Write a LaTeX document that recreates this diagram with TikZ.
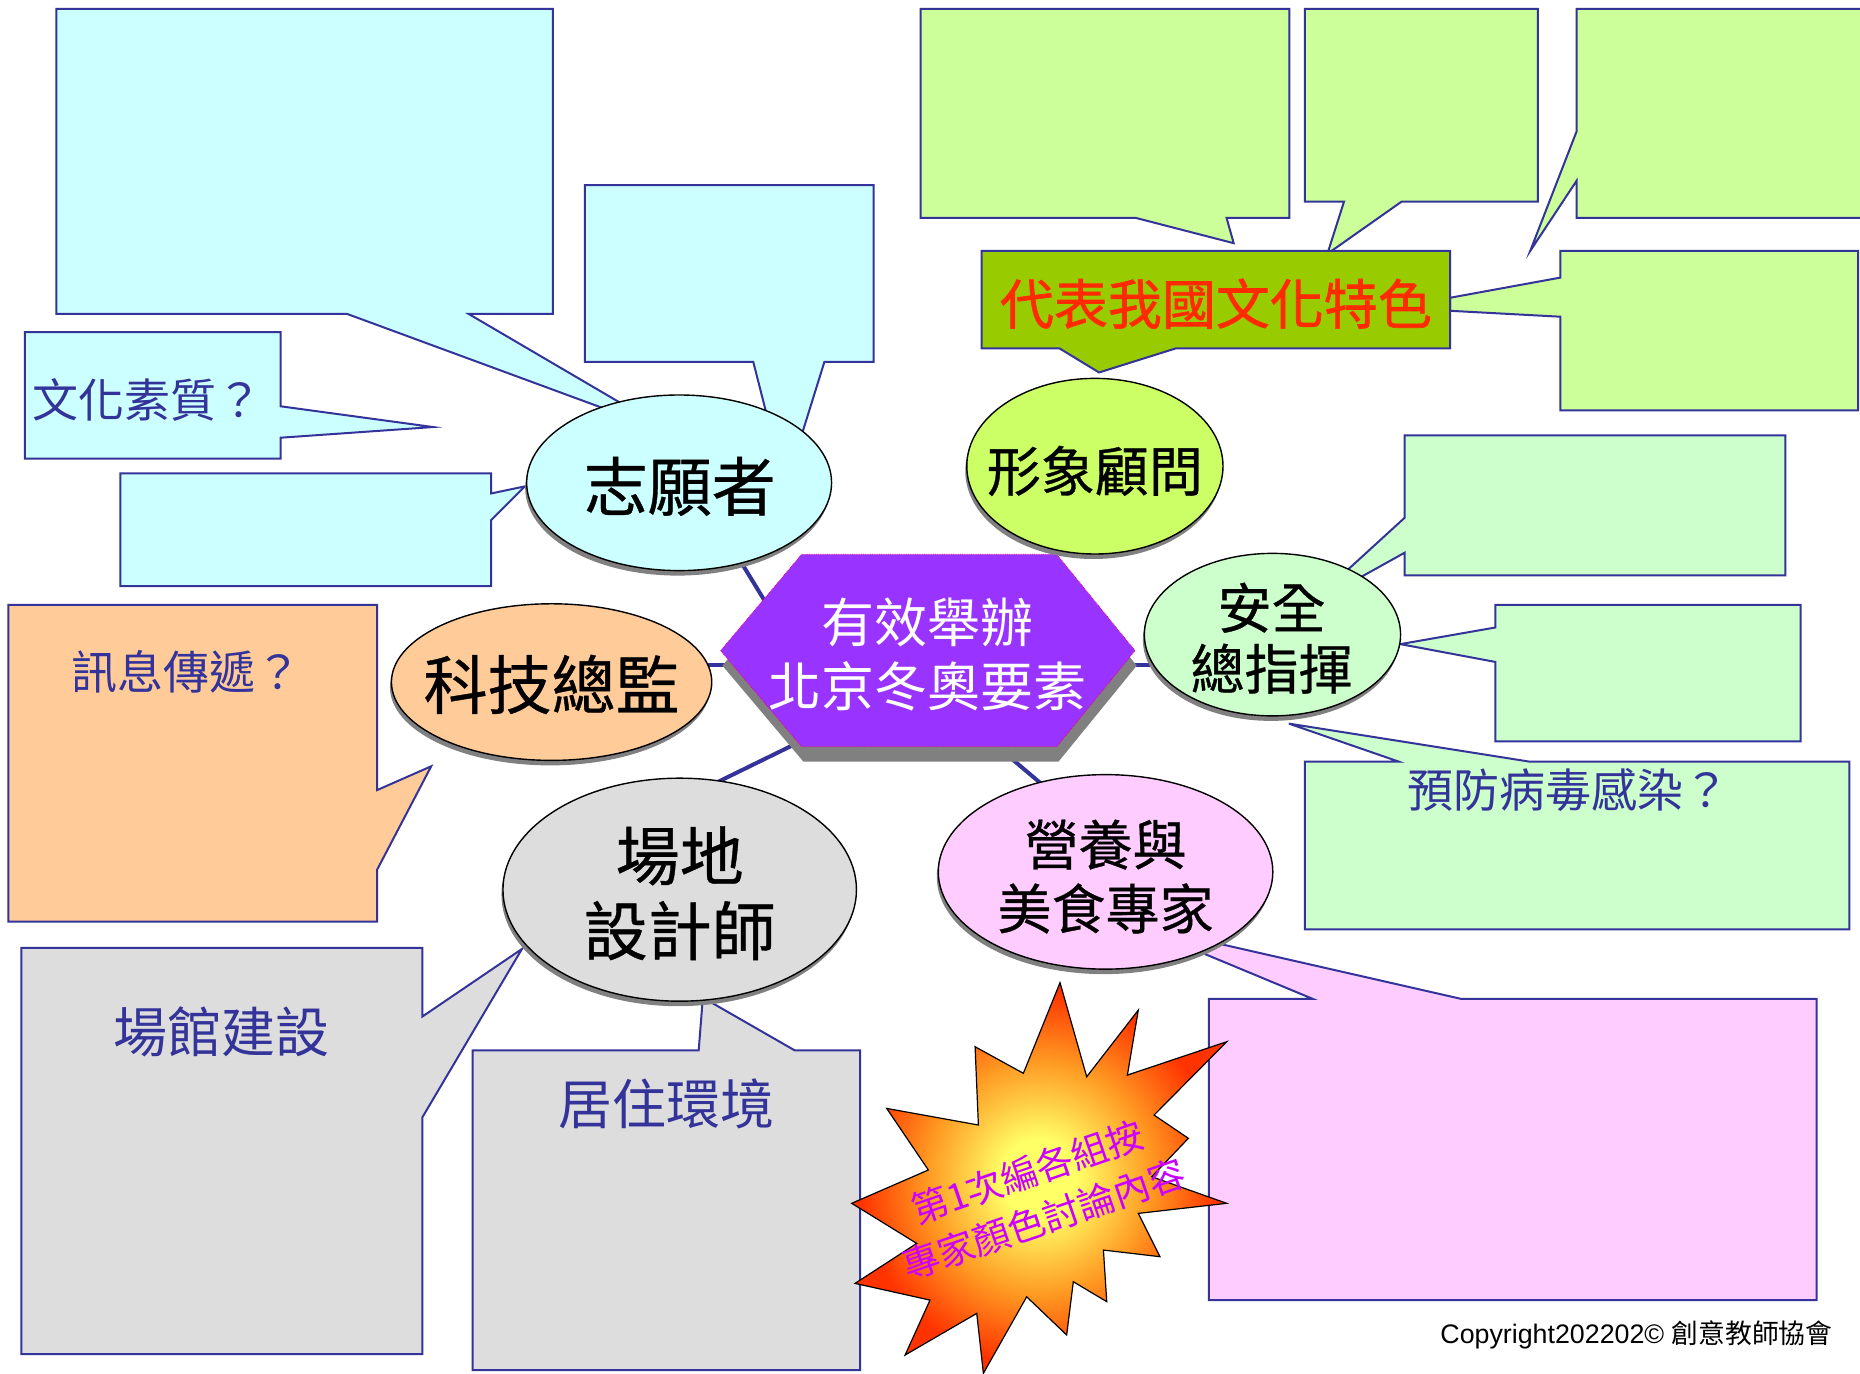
\documentclass[tikz,border=0pt]{standalone}
\usepackage{fontspec}
\setmainfont{Liberation Sans}
\newfontfamily\cjk{Noto Sans CJK TC}
\newfontfamily\cjkm{Noto Sans CJK TC}[FakeBold=0.6]
\newfontfamily\cjkh{Noto Sans CJK TC}[FakeBold=1.2]
\usetikzlibrary{shapes.geometric,shadows}
\definecolor{cbord}{HTML}{333399}
\definecolor{cyanf}{HTML}{CCFFFF}
\definecolor{lgreen}{HTML}{CCFF99}
\definecolor{olive}{HTML}{99CC00}
\definecolor{yellowg}{HTML}{CCFF66}
\definecolor{mint}{HTML}{CCFFCC}
\definecolor{peach}{HTML}{FFCC99}
\definecolor{lgray}{HTML}{DDDDDD}
\definecolor{pinkf}{HTML}{FFCCFF}
\definecolor{hexf}{HTML}{9933FF}
\definecolor{shadowgray}{HTML}{808080}
\definecolor{redtxt}{HTML}{FF2A00}
\definecolor{burstpurple}{HTML}{CC00FF}
\definecolor{bY}{HTML}{FFFF66}
\definecolor{bO}{HTML}{FF9922}
\definecolor{bR}{HTML}{FF3300}
\pgfdeclareradialshading{burst}{\pgfpoint{0bp}{0bp}}{color(0bp)=(bY); color(5bp)=(bY); color(15bp)=(bO); color(24bp)=(bR); color(50bp)=(bR)}
\begin{document}
\begin{tikzpicture}[x=1.1862pt,y=-1.1862pt,
  callout/.style={draw=cbord, line width=2pt, line join=miter},
  conn/.style={draw=cbord, line width=4pt},
  bubble/.style={ellipse, draw=black, line width=1.4pt, inner sep=0pt,
    drop shadow={shadow xshift=-1.5pt, shadow yshift=-5pt, fill=shadowgray, opacity=1}},
  lbl/.style={text=cbord, font=\cjk\fontsize{46}{55}\selectfont, inner sep=0pt},
  lblbig/.style={text=cbord, font=\cjk\fontsize{54}{64}\selectfont, inner sep=0pt},
  bigtxt/.style={text=black, inner sep=0pt, align=center},
]
\clip (0,0) rectangle (1568,1158);
\fill[white] (0,0) rectangle (1568,1158);

% ---------- callouts ----------
\path[callout, fill=cyanf] (47.5,7.5) -- (466,7.5) -- (466,264.6) -- (395,264.6) -- (568,366) -- (292.5,264.6) -- (47.5,264.6) -- cycle;
\path[callout, fill=cyanf] (493,156) -- (736.5,156) -- (736.5,305) -- (695,305) -- (662,411) -- (635,305) -- (493,305) -- cycle;
\path[callout, fill=cyanf] (21,280) -- (236.5,280) -- (236.5,342.5) -- (365,360) -- (236.5,369) -- (236.5,386.6) -- (21,386.6) -- cycle;
\path[callout, fill=cyanf] (101.5,399) -- (414,399) -- (414,416) -- (442.5,410) -- (414,438.5) -- (414,494) -- (101.5,494) -- cycle;
\path[callout, fill=peach] (7,510) -- (318,510) -- (318,666) -- (363.5,646) -- (318,733) -- (318,777) -- (7,777) -- cycle;
\path[callout, fill=lgray] (18,799) -- (356,799) -- (356,857) -- (440,800) -- (356,942) -- (356,1141.5) -- (18,1141.5) -- cycle;
\path[callout, fill=lgray] (398.5,885.5) -- (589,885.5) -- (592.5,841) -- (670,885.5) -- (725,885.5) -- (725,1155) -- (398.5,1155) -- cycle;

\path[callout, fill=lgreen] (776,7.5) -- (1087,7.5) -- (1087,183.7) -- (1034,183.7) -- (1040,205) -- (957.5,183.7) -- (776,183.7) -- cycle;
\path[callout, fill=lgreen] (1100,7.5) -- (1296.5,7.5) -- (1296.5,170) -- (1181.5,170) -- (1119,214) -- (1133,170) -- (1100,170) -- cycle;
\path[callout, fill=lgreen] (1329,7.5) -- (1580,7.5) -- (1580,183.7) -- (1329,183.7) -- (1329,152.5) -- (1290,211.5) -- (1329,111) -- cycle;
\path[callout, fill=lgreen] (1315.5,211.5) -- (1566.5,211.5) -- (1566.5,346) -- (1315.5,346) -- (1315.5,267) -- (1222.5,262) -- (1222.5,251) -- (1315.5,234) -- cycle;
\path[callout, fill=olive] (827.5,211.5) -- (1222.5,211.5) -- (1222.5,293.6) -- (991.5,293.6) -- (926.5,314) -- (893,293.6) -- (827.5,293.6) -- cycle;

\path[callout, fill=mint] (1184,367) -- (1505,367) -- (1505,485) -- (1184,485) -- (1184,466) -- (1101.7,511.8) -- (1184,436.6) -- cycle;
\path[callout, fill=mint] (1260.5,510) -- (1518,510) -- (1518,625) -- (1260.5,625) -- (1260.5,558) -- (1180.5,543) -- (1260.5,529) -- cycle;
\path[callout, fill=mint] (1100,642) -- (1179,642) -- (1086.5,610) -- (1289,642) -- (1559,642) -- (1559,783.5) -- (1100,783.5) -- cycle;
\path[callout, fill=pinkf] (1019,842) -- (1106.5,842) -- (955,779) -- (1231.5,842) -- (1531.5,842) -- (1531.5,1096) -- (1019,1096) -- cycle;

% ---------- labels in callouts ----------
\node[lbl, anchor=west] (q1) at (27,337) {文化素質？};
\node[lbl, anchor=west] (q2) at (60,566) {訊息傳遞？};
\node[lblbig] (q3) at (187,870) {場館建設};
\node[lblbig] (q4) at (562,931) {居住環境};
\node[lbl, anchor=west] (q5) at (1186,666) {預防病毒感染？};
\node[inner sep=0pt, text=redtxt, font=\cjkh\fontsize{54}{64}\selectfont] (ct) at (1025,256) {代表我國文化特色};

% ---------- connectors ----------
\coordinate (k1a) at (615,458);
\coordinate (k1b) at (670,548);
\coordinate (k2a) at (580,560.6);
\coordinate (k2b) at (640,560.6);
\coordinate (k3a) at (590,666.6);
\coordinate (k3b) at (690,617.6);
\coordinate (k4a) at (845,633);
\coordinate (k4b) at (890,671);
\coordinate (k5a) at (930,560.6);
\coordinate (k5b) at (985,560.6);
\draw[conn] (k1a) -- (k1b);
\draw[conn] (k2a) -- (k2b);
\draw[conn] (k3a) -- (k3b);
\draw[conn] (k4a) -- (k4b);
\draw[conn] (k5a) -- (k5b);

% ---------- central hexagon ----------
\fill[shadowgray] (609,561.1) -- (677.3,479.9) -- (892.3,479.9) -- (958.3,561.1) -- (892.3,642.1) -- (677.3,642.1) -- cycle;
\path[fill=hexf, draw=magenta, densely dotted, line width=0.8pt] (607.5,548.5) -- (675.8,467.3) -- (890.8,467.3) -- (956.8,548.5) -- (890.8,629.5) -- (675.8,629.5) -- cycle;
\node[bigtxt, text=white, font=\cjk\fontsize{53}{64}\selectfont] (hub) at (782,552) {有效舉辦\\北京冬奧要素};

% ---------- ellipses ----------
\node[bubble, fill=cyanf, minimum width=304.9pt, minimum height=175.6pt] (e1) at (572.5,407) {};
\node[bubble, fill=peach, minimum width=320.3pt, minimum height=156.6pt] (e2) at (465,575) {};
\node[bubble, fill=lgray, minimum width=353.5pt, minimum height=223pt] (e3) at (573,750) {};
\node[bubble, fill=pinkf, minimum width=334.5pt, minimum height=194.5pt] (e4) at (932,735) {};
\node[bubble, fill=mint, minimum width=256.2pt, minimum height=162.5pt] (e5) at (1072.7,535) {};
\node[bubble, fill=yellowg, minimum width=256.2pt, minimum height=175.6pt] (e6) at (923,393) {};

\node[bigtxt, font=\cjkm\fontsize{64}{75}\selectfont] (t1) at (573,410) {志願者};
\node[bigtxt, font=\cjkm\fontsize{64}{75}\selectfont] (t2) at (465,577) {科技總監};
\node[bigtxt, font=\cjkm\fontsize{64}{75}\selectfont] (t3) at (573,753) {場地\\設計師};
\node[bigtxt, font=\cjkm\fontsize{54}{64}\selectfont] (t4) at (932,739) {營養與\\美食專家};
\node[bigtxt, font=\cjkm\fontsize{54}{61}\selectfont] (t5) at (1072,538) {安全\\總指揮};
\node[bigtxt, font=\cjkm\fontsize{54}{64}\selectfont] (t6) at (923,397) {形象顧問};

% ---------- starburst ----------
\path[shading=burst, draw=black, line width=1.2pt]
  (893.6,828.4) -- (916.1,907.7) -- (959.6,851.5) -- (950.4,906.3) -- (1034.1,878.2) -- (972.9,940)
  -- (1001.8,959.6) -- (970.9,992) -- (1034.1,1014.4) -- (959.6,1022.9) -- (977.9,1059.4) -- (930.2,1053.8)
  -- (933,1097.3) -- (904.8,1080.5) -- (899.2,1125.4) -- (865.5,1093.2) -- (829,1157.7) -- (823.4,1107.2)
  -- (763,1142.3) -- (784,1096) -- (720.8,1081.9) -- (772.8,1048.2) -- (718,1014.4) -- (782.6,986.3)
  -- (747.5,934.4) -- (824.8,948.4) -- (822,882.4) -- (862.7,904.8) -- cycle;
\node[bigtxt, rotate=19, text=burstpurple, font=\cjk\fontsize{37}{50}\selectfont] (bt) at (873,1008) {第1次編各組按\\專家顏色討論內容};

% ---------- copyright ----------
\node[anchor=east, inner sep=0pt, font=\fontsize{26.8}{30}\selectfont] (cp) at (1545,1125) {Copyright202202© {\cjk 創意教師協會}};
\end{tikzpicture}
\end{document}
